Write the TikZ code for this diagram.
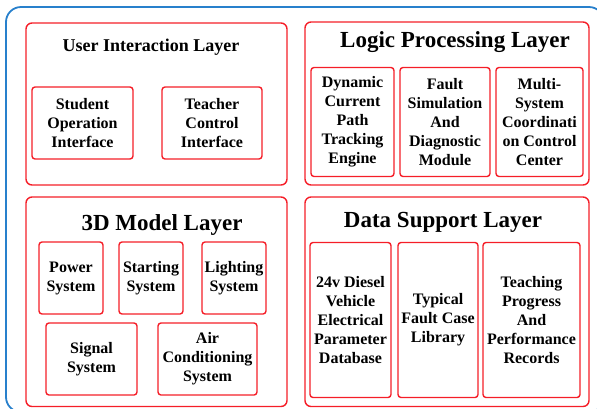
\documentclass[tikz,border=0pt]{standalone}
\usepackage{fontspec}
\setmainfont{Liberation Serif}
\definecolor{frameblue}{RGB}{40,128,204}
\definecolor{boxred}{RGB}{245,30,40}

\begin{document}
\begin{tikzpicture}[x=1pt,y=-1pt,
    layerbox/.style={draw=boxred, line width=1.4pt, rounded corners=6pt},
    unitbox/.style={draw=boxred, line width=1.4pt, rounded corners=3pt,
        align=center, inner sep=0pt, font=\rmfamily\bfseries\fontsize{16}{19}\selectfont},
    bigtitle/.style={font=\rmfamily\bfseries\fontsize{23}{27}\selectfont},
    smalltitle/.style={font=\rmfamily\bfseries\fontsize{18}{21}\selectfont}]
    \useasboundingbox (0,0) rectangle (597,408);
    \clip (0,0) rectangle (597,408);

    % outer frame
    \draw[frameblue, line width=1.8pt, rounded corners=15pt] (6,7) rectangle (604,412);

    % layers
    \draw[layerbox] (26,23) rectangle (287,185);
    \draw[layerbox] (305,22) rectangle (589,185);
    \draw[layerbox] (26,197) rectangle (287,406.5);
    \draw[layerbox] (305,197) rectangle (589,406.5);

    % user interaction layer
    \node[smalltitle] (uititle) at (151,47) {User Interaction Layer};
    \node[unitbox, minimum width=101pt, minimum height=72pt] (student) at (82.5,123) {Student\\Operation\\Interface};
    \node[unitbox, minimum width=100pt, minimum height=72pt] (teacher) at (212,123) {Teacher\\Control\\Interface};

    % logic processing layer
    \node[bigtitle] (logictitle) at (455,42.5) {Logic Processing Layer};
    \node[unitbox, minimum width=83pt, minimum height=109pt] (tracking) at (352.5,122) {Dynamic\\Current\\Path\\Tracking\\Engine};
    \node[unitbox, minimum width=90pt, minimum height=109pt] (fault) at (445,122) {Fault\\Simulation\\And\\Diagnostic\\Module};
    \node[unitbox, minimum width=87pt, minimum height=109pt] (coord) at (539.5,122) {Multi-\\System\\Coordinati\\on Control\\Center};

    % 3d model layer
    \node[bigtitle] (modeltitle) at (162,224.5) {3D Model Layer};
    \node[unitbox, minimum width=64pt, minimum height=72pt] (power) at (71,278) {Power\\System};
    \node[unitbox, minimum width=64pt, minimum height=72pt] (starting) at (151,278) {Starting\\System};
    \node[unitbox, minimum width=64pt, minimum height=72pt] (lighting) at (234,278) {Lighting\\System};
    \node[unitbox, minimum width=91pt, minimum height=72pt] (signal) at (91.5,359) {Signal\\System};
    \node[unitbox, minimum width=99pt, minimum height=72pt] (aircon) at (207.5,359) {Air\\Conditioning\\System};

    % data support layer
    \node[bigtitle] (datatitle) at (443,222.5) {Data Support Layer};
    \node[unitbox, minimum width=81pt, minimum height=155pt] (params) at (350.5,320) {24v Diesel\\Vehicle\\Electrical\\Parameter\\Database};
    \node[unitbox, minimum width=80pt, minimum height=155pt] (cases) at (438,320) {Typical\\Fault Case\\Library};
    \node[unitbox, minimum width=97pt, minimum height=155pt] (records) at (531.5,320) {Teaching\\Progress\\And\\Performance\\Records};
\end{tikzpicture}
\end{document}
